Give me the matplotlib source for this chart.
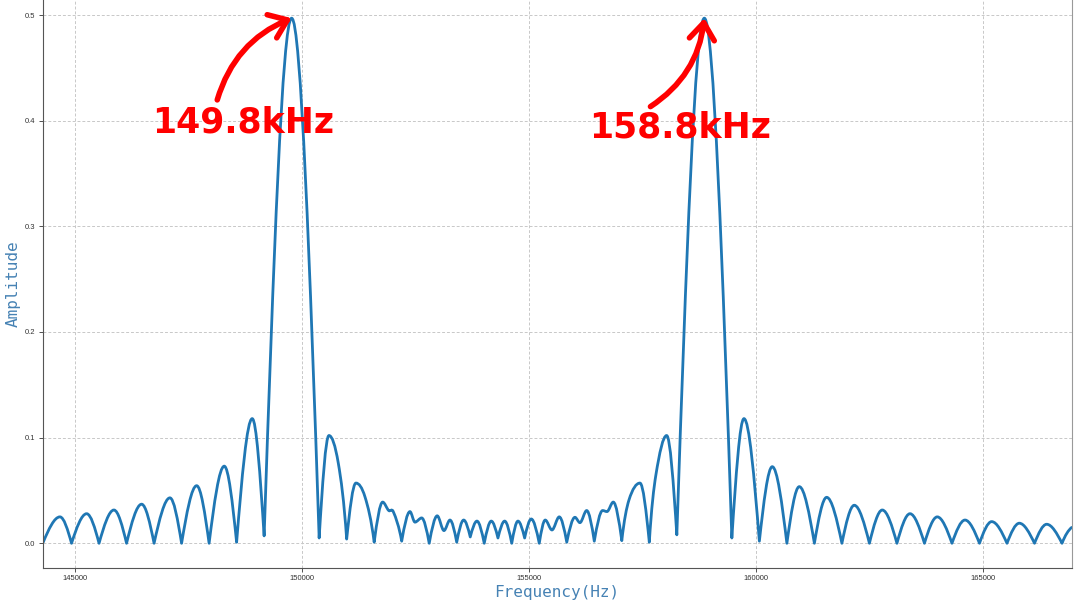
import matplotlib
matplotlib.use("Agg")
import matplotlib.pyplot as plt
from matplotlib import font_manager
from matplotlib.path import Path
from matplotlib.patches import PathPatch

# spectrum: nulls, lobe peaks, dips and shoulders (Hz, amplitude)
freq_hz = [
    144290, 144659, 144914, 145247, 145520, 145848, 146126, 146458, 146732,
    147081, 147338, 147670, 147944, 148278, 148550, 148894, 149156, 149762,
    150368, 150584, 150789, 150974, 151178, 151377, 151580, 151767, 151900,
    152000, 152186, 152368, 152478, 152626, 152792, 152969, 153117, 153249,
    153398, 153551, 153696, 153844, 154004, 154159, 154306, 154454, 154610,
    154747, 154894, 155040, 155216, 155348, 155496, 155656, 155822, 156002,
    156112, 156260, 156428, 156612, 156707, 156846, 157034, 157192, 157434,
    157640, 157786, 158022, 158246, 158852, 159458, 159725, 160064, 160348,
    160670, 160943, 161276, 161546, 161882, 162154, 162488, 162771, 163094,
    163381, 163700, 163982, 164306, 164593, 164912, 165181, 165518, 165789,
    166124, 166392, 166730, 166943,
]
amplitude = [
    0.001, 0.025, 0.000, 0.028, 0.000, 0.0315, 0.000, 0.037, 0.000,
    0.043, 0.000, 0.0545, 0.000, 0.073, 0.001, 0.118, 0.007, 0.497,
    0.005, 0.102, 0.076, 0.004, 0.057, 0.044, 0.001, 0.039, 0.031,
    0.030, 0.002, 0.030, 0.020, 0.024, 0.000, 0.026, 0.012, 0.022,
    0.001, 0.022, 0.006, 0.021, 0.000, 0.021, 0.005, 0.021, 0.000,
    0.021, 0.005, 0.023, 0.000, 0.022, 0.0126, 0.025, 0.001, 0.0246,
    0.0195, 0.031, 0.002, 0.031, 0.030, 0.039, 0.0025, 0.041, 0.057,
    0.001, 0.065, 0.102, 0.008, 0.497, 0.005, 0.118, 0.002, 0.0725,
    0.000, 0.0536, 0.000, 0.0435, 0.000, 0.036, 0.000, 0.0315, 0.000,
    0.028, 0.000, 0.025, 0.000, 0.022, 0.000, 0.0205, 0.000, 0.019,
    0.000, 0.018, 0.000, 0.015,
]

peak_freqs = [149762, 158852]
peak_labels = ["149.8kHz", "158.8kHz"]

x_ticks = [145000, 150000, 155000, 160000, 165000]
y_ticks = [0.0, 0.1, 0.2, 0.3, 0.4, 0.5]


def smooth_path(xs, ys):
    # cubic bezier through the read points: round tops, sharp nulls
    n = len(xs)
    m_left = [0.0] * n
    m_right = [0.0] * n
    for i in range(n):
        if i == 0:
            s = (ys[1] - ys[0]) / (xs[1] - xs[0])
            m_left[i] = m_right[i] = 1.57 * s
            continue
        if i == n - 1:
            s = (ys[i] - ys[i - 1]) / (xs[i] - xs[i - 1])
            m_left[i] = m_right[i] = 0.5 * s
            continue
        d_prev = ys[i] - ys[i - 1]
        d_next = ys[i + 1] - ys[i]
        if d_prev * d_next <= 0:
            if ys[i] < 0.01 and d_prev < 0:
                m_left[i] = 1.57 * d_prev / (xs[i] - xs[i - 1])
                m_right[i] = 1.57 * d_next / (xs[i + 1] - xs[i])
        else:
            s = (ys[i + 1] - ys[i - 1]) / (xs[i + 1] - xs[i - 1])
            m_left[i] = m_right[i] = s
    verts = [(xs[0], ys[0])]
    codes = [Path.MOVETO]
    for i in range(n - 1):
        dx = xs[i + 1] - xs[i]
        verts.append((xs[i] + dx / 3, ys[i] + m_right[i] * dx / 3))
        verts.append((xs[i + 1] - dx / 3, ys[i + 1] - m_left[i + 1] * dx / 3))
        verts.append((xs[i + 1], ys[i + 1]))
        codes += [Path.CURVE4] * 3
    return Path(verts, codes)


installed = {f.name for f in font_manager.fontManager.ttflist}
if "Liberation Sans Narrow" in installed:
    hand_family, hand_size = "Liberation Sans Narrow", 36
else:
    hand_family, hand_size = "DejaVu Sans", 25

fig = plt.figure(figsize=(10.8, 6.08), dpi=100)
ax = fig.add_axes([0.0395, 0.0663, 0.9528, 0.9337])

ax.add_patch(PathPatch(smooth_path(freq_hz, amplitude), fill=False,
                       edgecolor="#1f77b4", lw=2.0,
                       capstyle="round", joinstyle="round"))

ax.set_xlim(144278, 166943)
ax.set_ylim(-0.0231, 0.5142)
ax.set_xticks(x_ticks)
ax.set_xticklabels([str(t) for t in x_ticks])
ax.set_yticks(y_ticks)
ax.set_yticklabels([f"{t:.1f}" for t in y_ticks])
ax.tick_params(labelsize=5.5, length=3, width=0.6, colors="#333333", pad=2.5)
for lab in ax.get_xticklabels() + ax.get_yticklabels():
    lab.set_family("Liberation Sans")

ax.grid(True, color="#c8c8c8", linestyle=(0, (3, 2)), linewidth=0.7)
ax.set_axisbelow(True)

ax.spines["top"].set_visible(False)
ax.spines["left"].set_color("#555555")
ax.spines["bottom"].set_color("#555555")
ax.spines["right"].set_color("#999999")

ax.set_xlabel("Frequency(Hz)", fontsize=11.5, color="#4682b4",
              family="DejaVu Sans Mono", labelpad=2)
ax.set_ylabel("Amplitude", fontsize=11.5, color="#4682b4",
              family="DejaVu Sans Mono", labelpad=3)

# red hand-written style markers on the two peaks
text_offsets = [(-35, -75), (-17.6, -79)]
arrow_starts = [(0.35, 1.0), (0.3, 1.0)]
arrow_bends = [-0.25, 0.25]
for f, label, off, rel, rad in zip(peak_freqs, peak_labels, text_offsets,
                                   arrow_starts, arrow_bends):
    a = amplitude[freq_hz.index(f)]
    ax.annotate(label, xy=(f, a), xytext=off, textcoords="offset points",
                ha="center", va="center", color="red", fontsize=hand_size,
                fontweight="bold", family=hand_family,
                arrowprops=dict(arrowstyle="->,head_length=0.6,head_width=0.45",
                                color="red", lw=4, mutation_scale=20,
                                connectionstyle=f"arc3,rad={rad}",
                                relpos=rel, shrinkA=2, shrinkB=0))

fig.savefig("out.png", dpi=100)
